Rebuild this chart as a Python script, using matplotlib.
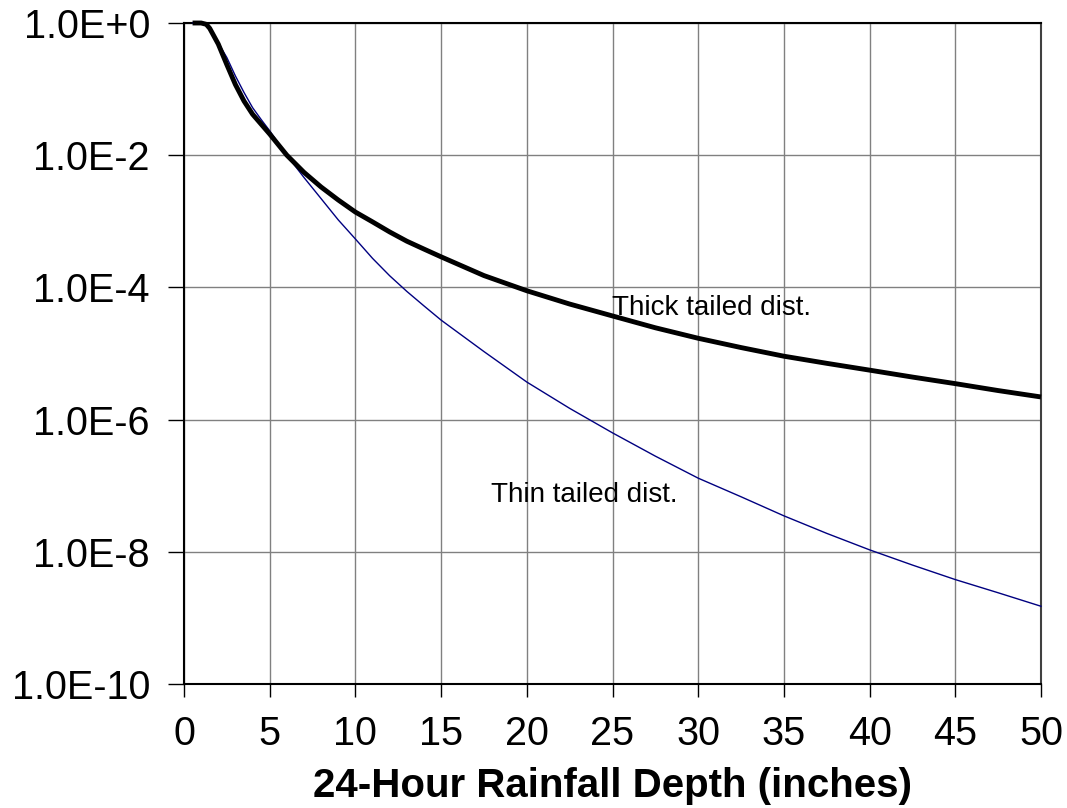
import matplotlib
matplotlib.use("Agg")
import matplotlib.pyplot as plt
import matplotlib.ticker as mticker

plt.rcParams['font.family'] = ['Liberation Sans', 'DejaVu Sans']

# rainfall depth (inches)
depth = [0.5, 1.0, 1.3, 1.5, 2.0, 2.5, 3.0, 3.5, 4.0, 4.5, 5, 6, 7, 8, 9, 10,
         11, 12, 13, 14, 15, 17.5, 20, 22.5, 25, 27.5, 30, 32.5, 35, 37.5,
         40, 42.5, 45, 47.5, 50]

# exceedance probability, heavy-tailed fit
p_thick = [1.0, 1.0, 0.955, 0.83, 0.48, 0.234, 0.117, 0.066, 0.0417, 0.0295,
           0.0209, 0.010, 5.5e-3, 3.3e-3, 2.1e-3, 1.38e-3, 9.8e-4, 6.9e-4,
           5.0e-4, 3.8e-4, 2.9e-4, 1.51e-4, 8.9e-5, 5.6e-5, 3.7e-5, 2.45e-5,
           1.7e-5, 1.23e-5, 9.1e-6, 7.1e-6, 5.6e-6, 4.4e-6, 3.5e-6, 2.75e-6,
           2.2e-6]

# exceedance probability, light-tailed fit
p_thin = [1.0, 1.0, 0.955, 0.85, 0.50, 0.30, 0.158, 0.089, 0.0525, 0.0347,
          0.0234, 0.010, 4.6e-3, 2.2e-3, 1.05e-3, 5.4e-4, 2.75e-4, 1.5e-4,
          8.7e-5, 5.25e-5, 3.2e-5, 1.07e-5, 3.7e-6, 1.48e-6, 6.3e-7, 2.8e-7,
          1.3e-7, 6.8e-8, 3.5e-8, 1.9e-8, 1.07e-8, 6.3e-9, 3.8e-9, 2.4e-9,
          1.5e-9]

y_ticks = [1e0, 1e-2, 1e-4, 1e-6, 1e-8, 1e-10]
y_tick_labels = ['1.0E+0', '1.0E-2', '1.0E-4', '1.0E-6', '1.0E-8', '1.0E-10']
x_ticks = [0, 5, 10, 15, 20, 25, 30, 35, 40, 45, 50]

W, H = 1067, 808
fig = plt.figure(figsize=(W / 100, H / 100), dpi=100)
ax = fig.add_axes([184 / W, 1 - 684 / H, (1041 - 184) / W, (684 - 23) / H])

ax.set_yscale('log')
ax.set_xlim(0, 50)
ax.set_ylim(1e-10, 1)

ax.plot(depth, p_thin, color='#000080', lw=1.0, clip_on=False, zorder=3)
ax.plot(depth, p_thick, color='black', lw=3.5, clip_on=False, zorder=4,
        solid_capstyle='butt')

ax.text(25, 10 ** -4.41, 'Thick tailed dist.', fontsize=20, ha='left', va='baseline')
ax.text(17.9, 10 ** -7.24, 'Thin tailed dist.', fontsize=20, ha='left', va='baseline')

ax.xaxis.set_major_locator(mticker.FixedLocator(x_ticks))
ax.yaxis.set_major_locator(mticker.FixedLocator(y_ticks))
ax.yaxis.set_minor_locator(mticker.NullLocator())
ax.set_yticklabels(y_tick_labels)

ax.grid(True, which='major', color='#808080', lw=1.0)
ax.tick_params(axis='both', which='major', direction='out', width=1.0,
               color='black', labelsize=28.5)
ax.tick_params(axis='y', length=11.5, pad=13)
ax.tick_params(axis='x', length=9.5, pad=13)

for side in ['left', 'bottom', 'top']:
    ax.spines[side].set_linewidth(1.5)
    ax.spines[side].set_color('black')
ax.spines['right'].set_linewidth(1.5)
ax.spines['right'].set_color('#404040')

ax.set_xlabel('24-Hour Rainfall Depth (inches)', fontsize=29, fontweight='bold',
              labelpad=10)

fig.savefig('out.png', dpi=100)
